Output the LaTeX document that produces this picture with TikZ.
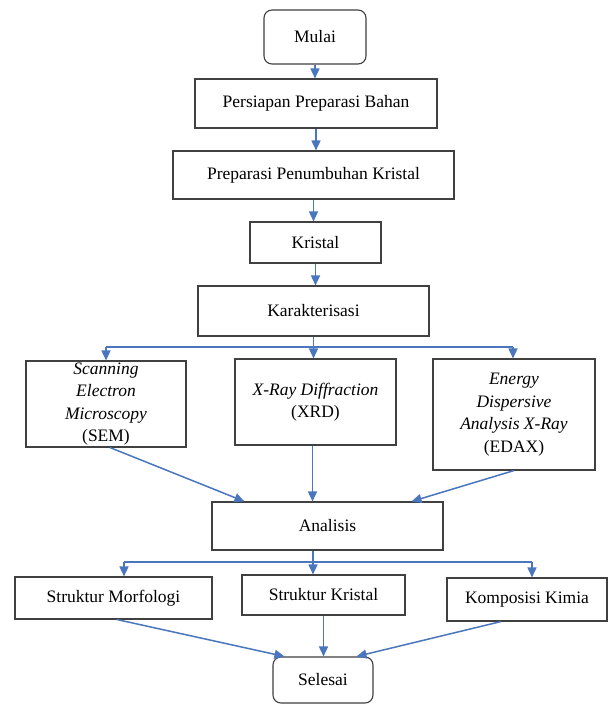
\documentclass[tikz,border=0pt]{standalone}
\usepackage{fontspec}
\setmainfont{Liberation Serif}
\usetikzlibrary{arrows.meta}
\definecolor{arrowblue}{HTML}{4A76BD}
\definecolor{boxgray}{HTML}{404040}
\begin{document}
\begin{tikzpicture}[x=1pt,y=-1pt,
  box/.style={draw=boxgray,line width=1.1pt,inner sep=0pt,align=center,
    font=\fontsize{17.5}{22.5}\selectfont},
  rbox/.style={box,rounded corners=8pt},
  conn/.style={draw=arrowblue,line width=1.5pt},
  arr/.style={conn,-{Triangle[length=10pt,width=9pt]}}]
\fill[white] (0,0) rectangle (608,705);
\useasboundingbox (0,0) rectangle (608,705);

\node[rbox,minimum width=102pt,minimum height=54pt] (mulai) at (315,37) {Mulai};
\node[box,minimum width=242pt,minimum height=49pt] (persiapan) at (316,103.5) {Persiapan Preparasi Bahan};
\node[box,minimum width=281pt,minimum height=48pt] (preparasi) at (313.5,175) {Preparasi Penumbuhan Kristal};
\node[box,minimum width=131pt,minimum height=41pt] (kristal) at (315.5,242.5) {Kristal};
\node[box,minimum width=231pt,minimum height=50pt] (karak) at (313.5,311) {Karakterisasi};

\node[box,minimum width=160pt,minimum height=86pt] (sem) at (106,404)
  {\textit{Scanning}\\\textit{Electron}\\\textit{Microscopy}\\(SEM)};
\node[box,minimum width=161pt,minimum height=86pt] (xrd) at (315.5,402)
  {\textit{X-Ray Diffraction}\\(XRD)};
\node[box,minimum width=162pt,minimum height=111pt] (edax) at (514,414.5)
  {\textit{Energy}\\\textit{Dispersive}\\\textit{Analysis X-Ray}\\(EDAX)};

\node[box,minimum width=231pt,minimum height=48pt] (analisis) at (327.5,526) {Analisis};

\node[box,minimum width=197pt,minimum height=42pt] (morf) at (113.5,598) {Struktur Morfologi};
\node[box,minimum width=163pt,minimum height=40pt] (skristal) at (323.5,595) {Struktur Kristal};
\node[box,minimum width=160pt,minimum height=43pt] (komp) at (527,599.5) {Komposisi Kimia};

\node[rbox,minimum width=100pt,minimum height=46pt] (selesai) at (323,680) {Selesai};

% top chain
\draw[arr] (mulai.south) -- (mulai.south |- persiapan.north);
\draw[arr] (persiapan.south) -- (persiapan.south |- preparasi.north);
\draw[arr] (preparasi.south) -- (preparasi.south |- kristal.north);
\draw[arr] (kristal.south) -- (kristal.south |- karak.north);

% first branch
\coordinate (s1) at (106,347);
\coordinate (e1) at (513,347);
\draw[conn] (s1) -- (e1);
\draw[arr] (karak.south) -- (karak.south |- xrd.north);
\draw[arr] (s1) -- (s1 |- sem.north);
\draw[arr] (e1) -- (e1 |- edax.north);

% into Analisis
\draw[arr] ([xshift=4pt]sem.south) -- ([xshift=33pt]analisis.north west);
\draw[arr] ([xshift=-3pt]xrd.south) -- ([xshift=-3pt]xrd.south |- analisis.north);
\draw[arr] (edax.south) -- ([xshift=-32pt]analisis.north east);

% second branch
\coordinate (b2) at (313,562);
\coordinate (m1) at (124,562);
\coordinate (k1) at (532,562);
\draw[conn] (m1) -- (k1);
\draw[arr] (b2 |- analisis.south) -- (b2 |- skristal.north);
\draw[arr] (m1) -- (m1 |- morf.north);
\draw[arr] (k1) -- (k1 |- komp.north);

% into Selesai
\draw[arr] ([xshift=3.5pt]morf.south) -- ([xshift=12pt]selesai.north west);
\draw[arr] (skristal.south) -- (skristal.south |- selesai.north);
\draw[arr] ([xshift=-26pt]komp.south) -- ([xshift=-17pt]selesai.north east);
\end{tikzpicture}
\end{document}
